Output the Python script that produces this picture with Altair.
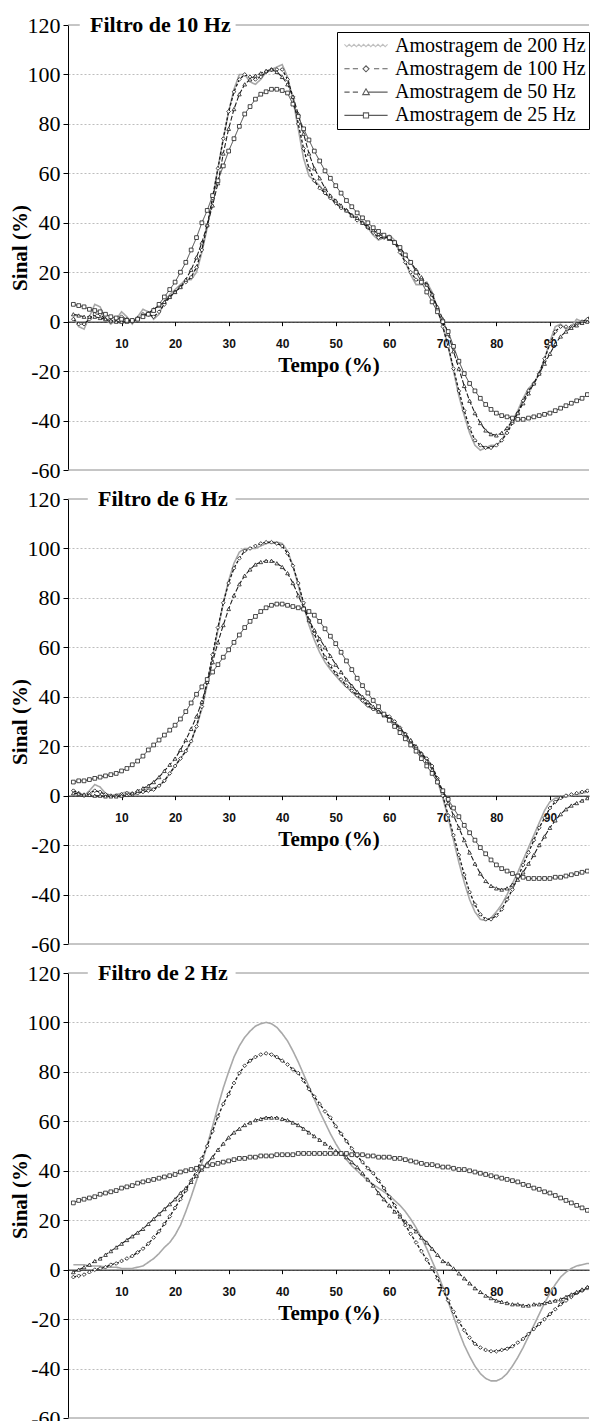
import altair as alt
import pandas as pd

X = list(range(1, 100))
SERIES = ["Amostragem de 200 Hz", "Amostragem de 100 Hz", "Amostragem de 50 Hz", "Amostragem de 25 Hz"]
PANELS = ["Filtro de 10 Hz", "Filtro de 6 Hz", "Filtro de 2 Hz"]
X_TICKS = [10, 20, 30, 40, 50, 60, 70, 80, 90]
Y_TICKS = [-60, -40, -20, 0, 20, 40, 60, 80, 100, 120]

# ---- Filtro de 10 Hz ----
f10_200 = [2, -2, -3, 2, 7, 6, 1, -1, 1, 4,
           2, -1, 2, 5, 4, 1, 3, 8, 11, 13,
           15, 17, 17, 20, 28, 38, 50, 62, 74, 85,
           94, 100, 100, 97, 96, 98, 101, 102, 103, 104,
           99, 90, 78, 66, 59, 57, 55, 52, 50, 48,
           46, 45, 43, 42, 40, 38, 35, 33, 34, 35,
           33, 29, 24, 19, 15, 15, 16, 12, 5, -2,
           -10, -20, -30, -38, -45, -50, -52, -51, -50, -50,
           -48, -44, -40, -36, -31, -27, -25, -21, -15, -8,
           -2, -1, -3, -2, 1, 0, 1, 4, 6]
f10_100 = [1, -1, -1, 1, 3, 3, 1, 0, 1, 2,
           1, 0, 1, 3, 3, 2, 4, 7, 10, 12,
           14, 16, 18, 22, 29, 39, 50, 62, 74, 85,
           93, 98, 100, 99, 98, 99, 101, 102, 102, 102,
           98, 91, 80, 70, 62, 57, 54, 52, 50, 48,
           46, 45, 43, 41, 40, 38, 36, 34, 34, 34,
           32, 28, 24, 20, 17, 16, 15, 11, 5, -2,
           -10, -19, -28, -36, -43, -48, -50, -51, -51, -50,
           -48, -45, -41, -37, -32, -28, -25, -21, -15, -9,
           -4, -2, -2, -2, -1, 0, 1, 3, 5]
f10_50 = [3, 2.5, 2, 2, 2, 1.5, 1, 0.5, 0, 0,
          0, 0.5, 1.5, 2.5, 3.5, 5, 6.5, 8, 10, 12,
          14, 17, 21, 26, 32, 39, 47, 56, 68, 78,
          86, 92, 96, 98, 99.5, 100.5, 101.5, 102, 101, 99,
          96, 91, 84, 76, 68, 62, 58, 54, 51, 49,
          47, 45, 43, 42, 40, 38.5, 37, 35.5, 34.5, 33.5,
          32, 30, 27, 24, 21, 18, 15, 11, 6, 1,
          -5, -12, -19, -26, -32, -37, -41, -44, -45.5, -46,
          -45, -43, -40, -37, -33, -29, -25, -21, -17, -13,
          -9, -6, -4, -2.5, -1.5, -0.5, 0, 0.5, 1]
f10_25 = [7, 6.5, 6, 5, 4.5, 4, 3, 2, 1.5, 1,
          0.5, 0.5, 1, 2, 3, 4.5, 7, 10, 13, 16,
          20, 24, 29, 34, 40, 45, 51, 57, 63, 69,
          74, 79, 84, 87, 90, 92, 93, 94, 94, 93.5,
          92.5, 88, 83, 78, 73.5, 69, 65, 61, 58, 55,
          52, 49, 46.5, 44, 42, 40, 38, 36.5, 35, 34,
          32, 30, 27, 24, 20, 16, 12, 8, 4, 0,
          -4, -10, -16, -21, -25, -28, -31, -33.5, -35.5, -37,
          -38, -38.5, -39, -39.5, -39.5, -39, -38.5, -38, -37.5, -37,
          -36, -35, -34, -33, -32, -31, -29.5, -28, -27]

# ---- Filtro de 6 Hz ----
f6_200 = [2.5, 0.5, 0, 2, 4.5, 3.5, 1, 0, 0.5, 1,
          1.5, 1, 1, 2, 3, 3, 4, 6, 9, 12,
          15, 18, 22, 28, 35, 45, 56, 67, 78, 87,
          94, 98.5, 100, 100, 100, 101, 102, 102.5, 102.5, 102,
          99, 93, 85, 77, 69, 63, 58, 54, 51, 48.5,
          46, 44, 42, 40, 38, 36, 35, 34, 33, 32,
          30, 27.5, 24.5, 21.5, 18.5, 16.5, 15, 12, 6, -1,
          -9, -18, -27, -35, -42, -47, -50, -50.5, -49.5, -47,
          -44, -40, -35.5, -31, -26, -21, -16, -11, -6, -2.5,
          -1, -1, -0.5, 0, 0.5, 1, 1.5, 2, 3]
f6_100 = [2, 1, 0, 1, 2, 1.5, 0.5, 0, 0, 0.5,
          1, 0.5, 1, 1.5, 2, 2.5, 4, 6, 9, 12,
          15, 18, 22, 28, 36, 46, 57, 68, 78, 86,
          92, 96, 99, 100, 101, 102, 102.5, 102.5, 102, 101,
          98, 93, 86, 78, 71, 65.5, 60.5, 56, 52.5, 49.5,
          47, 44.5, 42.5, 40.5, 38.5, 36.5, 35, 34, 33, 32,
          30, 27.5, 25, 22, 19, 17, 15, 12, 7, 0,
          -8, -16, -24, -32, -39, -44, -48, -50, -50, -48.5,
          -46, -42, -38, -33, -28, -23, -18, -13, -9, -5,
          -2.5, -1, 0, 0.5, 1, 1.5, 2, 2.5, 3]
f6_50 = [1, 0.8, 0.5, 0.3, 0, 0, -0.3, -0.3, -0.3, 0,
         0.3, 1, 2, 3, 4, 5.5, 7.5, 10, 12.5, 15,
         18.5, 22.5, 27, 32, 38, 46, 54, 62, 69, 75.5,
         81, 85.5, 89, 91.5, 93.5, 94.5, 95, 95, 94, 92.5,
         90, 86, 81, 76, 71, 67, 63.5, 60, 56.5, 53,
         50, 47, 44.5, 42, 40, 38, 36, 34, 32.5, 31,
         29, 27, 25, 22.5, 20, 17, 14, 10.5, 6.5, 2,
         -3, -8, -13, -18, -23, -27.5, -31.5, -34.5, -36.5, -37.5,
         -38, -37.5, -36, -34, -31, -27.5, -24, -20, -16.5, -13,
         -10, -7.5, -5.5, -4, -3, -2, -1, -0.5, 0]
f6_25 = [5.5, 6, 6, 6.5, 7, 7.5, 8, 8.5, 9, 10,
         11, 12.5, 14, 16, 18.5, 20.5, 22.5, 24.5, 26.5, 28.5,
         31, 34, 37.5, 41, 44, 47, 50, 53, 56, 59,
         62, 65, 68, 70.5, 72.5, 74.5, 76, 77, 77.5, 77.5,
         77, 76.5, 76, 75.5, 74.5, 73, 70.5, 67.5, 64.5, 61.5,
         58, 54.5, 51, 47.5, 44.5, 41.5, 38.5, 36, 33, 30.5,
         28, 25.5, 23, 20.5, 18, 15, 12, 9, 5.5, 2,
         -1.5, -5, -8.5, -12, -15, -18, -21, -23.5, -26, -28,
         -29.5, -30.5, -31.5, -32.5, -33, -33.5, -33.5, -33.5, -33.5, -33.5,
         -33, -33, -32.5, -32, -31.5, -31, -30.5, -30, -29.5]

# ---- Filtro de 2 Hz ----
f2_200 = [2, 2, 2, 1.5, 1.5, 1.5, 1, 1, 1, 0.5,
          0.5, 0.5, 1, 1.5, 3, 4.5, 6.5, 9, 11, 14,
          18, 23.5, 29.5, 36, 43, 50.5, 58, 66, 73.5, 80,
          86, 90.5, 94, 96.5, 98.5, 99.5, 100, 99.5, 98, 95.5,
          92.5, 88.5, 84, 79, 74, 69, 64, 59.5, 55, 51,
          47.5, 44.5, 42, 40, 38, 36, 34.5, 33, 31.5, 30,
          28, 26, 23.5, 20.5, 17, 13, 8.5, 3.5, -1.5, -7,
          -13, -19, -25, -30.5, -35, -39, -42, -44, -45, -45,
          -44, -42, -39, -35.5, -31.5, -27, -22.5, -18, -13.5, -9.5,
          -6, -3, -1, 0.5, 1.5, 2, 2.5, 2.5, 2.5]
f2_100 = [-3, -2.5, -2, -1, 0, 0.5, 1, 2, 2.5, 3.5,
          4.5, 5.5, 7, 8.5, 10.5, 13, 15.5, 18.5, 21.5, 25,
          28.5, 32, 36, 40, 45, 50, 56, 62, 67, 71,
          75.5, 79.5, 82.5, 84.5, 86, 87, 87.5, 87, 86, 84.5,
          83, 81, 79.5, 76.5, 73, 70, 67, 64, 61.5, 58,
          55, 52, 49, 46, 43.5, 41, 39, 36, 33, 29.5,
          26, 22, 18, 14.5, 11, 7.5, 4, 0.5, -3.5, -8,
          -12.5, -17, -21, -24.5, -27.5, -30, -31.5, -32.5, -33, -33,
          -32.5, -32, -31, -29.5, -28, -26, -24, -22, -20, -18,
          -16, -14, -12.5, -11, -9.5, -8.5, -7.5, -6, -5]
f2_50 = [-1, 0, 1, 2, 3.5, 4.5, 6, 7.5, 9, 10.5,
         12, 13.5, 15, 16.5, 18.5, 20.5, 22.5, 24.5, 26.5, 28.5,
         31, 33, 35.5, 38, 40.5, 43, 45.5, 48.5, 51, 53.5,
         55.5, 57, 58.5, 59.5, 60.5, 61, 61.5, 61.5, 61.5, 61,
         60.5, 59.5, 58.5, 57, 55.5, 54, 52.5, 51, 49.5, 48,
         47, 45.5, 43.5, 41.5, 39, 36.5, 34, 31, 28.5, 26,
         23.5, 21.5, 19.5, 17.5, 15.5, 13, 11, 8.5, 6, 3.5,
         2.5, 0.5, -1.5, -3.5, -5.5, -7.5, -9, -10.5, -11.5, -12.5,
         -13, -13.5, -14, -14, -14.5, -14.5, -14, -14, -13.5, -13,
         -12.5, -12, -11, -10, -9, -8, -7, -6, -5]
f2_25 = [27, 28, 28.5, 29, 29.5, 30.5, 31, 31.5, 32, 33,
         33.5, 34, 35, 35.5, 36, 36.5, 37, 37.5, 38, 38.5,
         39.5, 40, 40.5, 41, 41.5, 42, 42.5, 43, 43.5, 44,
         44.5, 45, 45, 45.5, 45.5, 46, 46, 46, 46.5, 46.5,
         46.5, 46.5, 47, 47, 47, 47, 47, 47, 47, 47,
         47, 47, 46.5, 46.5, 46.5, 46, 46, 45.5, 45.5, 45.5,
         45, 45, 44.5, 44, 43.5, 43, 42.5, 42.5, 42, 41.5,
         41.5, 41, 40.5, 40.5, 40, 39.5, 39, 38.5, 38, 37.5,
         37, 36.5, 36, 35.5, 34.5, 34, 33, 32.5, 31.5, 31,
         30, 29, 28, 27, 26, 25, 24, 23, 22]

PANEL_DATA = [
    [f10_200, f10_100, f10_50, f10_25],
    [f6_200, f6_100, f6_50, f6_25],
    [f2_200, f2_100, f2_50, f2_25],
]

rows = []
for pname, arrs in zip(PANELS, PANEL_DATA):
    for sname, vals in zip(SERIES, arrs):
        for xv, yv in zip(X, vals):
            rows.append({"panel": pname, "series": sname, "x": xv, "y": yv})
df = pd.DataFrame(rows)

# ---- layout / style constants ----
W, H = 521, 445
XMAX = 97.3
GRAY = "#a8a8a8"
INK = "#1a1a1a"
BORDER = "#8c8c8c"
SERIF = "Liberation Serif"
SANS = "Liberation Sans"
# title placement (data units): left line end, text start, right line start
TITLE_POS = [(2.2, 4.1, 31.3), (3.7, 5.6, 31.3), (3.7, 5.6, 31.3)]


def zigzag():
    pts = []
    xv = -2.7
    k = 0
    while xv <= 2.71:
        pts.append(f"{xv:.2f},{(0.15 if k % 2 else -0.15):.2f}")
        xv += 0.3
        k += 1
    return "M" + "L".join(pts)


P200 = zigzag()
P100 = ("M-2.7,0L-2.05,0M-1.65,0L-1.0,0"
        "M-0.38,0L0,-0.38L0.38,0L0,0.38Z"
        "M1.0,0L1.65,0M2.05,0L2.7,0")
P50 = ("M-2.7,0L-2.05,0M-1.65,0L-1.0,0"
       "M-0.42,0.32L0,-0.42L0.42,0.32Z"
       "M0.3,0L2.7,0")
P25 = ("M-2.7,0L-0.32,0"
       "M-0.32,-0.32L0.32,-0.32L0.32,0.32L-0.32,0.32Z"
       "M0.32,0L2.7,0")

xs = alt.Scale(domain=[0, XMAX], nice=False, zero=False)
ys = alt.Scale(domain=[-60, 120], nice=False, zero=False)

xaxis = alt.Axis(values=X_TICKS, title="Tempo (%)", offset=-H / 3, grid=False,
                 domainColor="black", domainWidth=1, tickColor="black", tickSize=4,
                 labelFont=SANS, labelFontSize=12, labelFontWeight="bold",
                 labelColor="#111111", labelPadding=13,
                 titleFont=SERIF, titleFontSize=21, titleFontWeight="bold",
                 titleColor="black", titleY=44, titleBaseline="middle")

yaxis = alt.Axis(values=Y_TICKS, title="Sinal (%)", grid=True,
                 gridColor="#bdbdbd", gridDash=[2, 2], gridWidth=1,
                 gridOpacity={"condition": {"test": "datum.value == 120 || datum.value == -60", "value": 0},
                              "value": 1},
                 domainColor="black", domainWidth=1, tickColor="black", tickSize=5,
                 labelFont=SERIF, labelFontSize=22, labelColor="black",
                 labelPadding=3, labelExpr="'' + datum.value",
                 titleFont=SERIF, titleFontSize=21, titleFontWeight="bold",
                 titleColor="black", titleAngle=270, titleX=-38, titleY=H / 2,
                 titleBaseline="bottom", titleAlign="center")

color_scale = dict(domain=SERIES, range=[GRAY, INK, INK, INK])


def make_panel(i):
    pname = PANELS[i]
    d = df[df.panel == pname]
    base = alt.Chart(d)
    left_end, text_x, right_start = TITLE_POS[i]

    seg = alt.Chart(pd.DataFrame({"x": [0, right_start], "x2": [left_end, XMAX], "y": [120, 120]})).mark_rule(
        color=BORDER, strokeWidth=1).encode(
        x=alt.X("x:Q", scale=xs), x2="x2:Q", y=alt.Y("y:Q", scale=ys))
    bottom = alt.Chart(pd.DataFrame({"y": [-60]})).mark_rule(color=BORDER, strokeWidth=1).encode(
        y=alt.Y("y:Q", scale=ys))

    lines = base.mark_line(clip=True).encode(
        x=alt.X("x:Q", scale=xs, axis=xaxis),
        y=alt.Y("y:Q", scale=ys, axis=yaxis),
        color=alt.Color("series:N", scale=alt.Scale(**color_scale), legend=None),
        strokeDash=alt.StrokeDash("series:N", scale=alt.Scale(domain=SERIES, range=[[1, 0], [3, 2], [5, 2], [1, 0]]),
                                  legend=None),
        strokeWidth=alt.StrokeWidth("series:N", scale=alt.Scale(domain=SERIES, range=[1.6, 0.8, 0.9, 0.9]),
                                    legend=None),
        order="x:Q",
    )

    pts = base.transform_filter(alt.datum.series != SERIES[0]).mark_point(
        filled=False, fill="white", size=14, strokeWidth=0.8, opacity=1, clip=True).encode(
        x=alt.X("x:Q", scale=xs),
        y=alt.Y("y:Q", scale=ys),
        color=alt.Color("series:N", scale=alt.Scale(**color_scale), legend=None),
        shape=alt.Shape("series:N", scale=alt.Scale(domain=SERIES[1:], range=["diamond", "triangle-up", "square"]),
                        legend=None),
    )

    title = alt.Chart(pd.DataFrame({"t": [pname], "x": [text_x], "y": [120]})).mark_text(
        align="left", baseline="middle", font=SERIF, fontSize=22, fontWeight="bold",
        color="black").encode(x=alt.X("x:Q", scale=xs), y=alt.Y("y:Q", scale=ys), text="t:N")

    layers = [seg, bottom, lines, pts, title]

    if i == 0:
        leg_props = dict(title=None, orient="none", legendX=269, legendY=7, padding=3,
                         strokeColor="black", fillColor="white",
                         labelFont=SERIF, labelFontSize=20, labelColor="black", labelLimit=0,
                         symbolSize=256, symbolStrokeWidth=1.1, symbolOffset=16, labelOffset=19,
                         clipHeight=21, rowPadding=2.3)
        leg = base.transform_filter("false").mark_point(filled=False, strokeWidth=1.1).encode(
            color=alt.Color("series:N", scale=alt.Scale(**color_scale), legend=alt.Legend(**leg_props)),
            shape=alt.Shape("series:N", scale=alt.Scale(domain=SERIES, range=[P200, P100, P50, P25]),
                            legend=alt.Legend(**leg_props)),
        )
        layers.append(leg)

    return alt.layer(*layers).resolve_scale(
        color="independent", shape="independent", strokeDash="independent", strokeWidth="independent"
    ).properties(width=W, height=H)


chart = alt.vconcat(make_panel(0), make_panel(1), make_panel(2), spacing=7).resolve_scale(
    color="independent", shape="independent", strokeDash="independent", strokeWidth="independent"
).properties(
    padding={"left": 1, "top": 6, "right": 0, "bottom": 0}
).configure_view(stroke=None).configure_axisY(
    labelFont=SERIF, titleFont=SERIF
).configure_axisX(
    labelFont=SANS, titleFont=SERIF
).configure_legend(
    labelFont=SERIF
)

chart.save("out.html", embed_options={"renderer": "svg", "actions": False})
